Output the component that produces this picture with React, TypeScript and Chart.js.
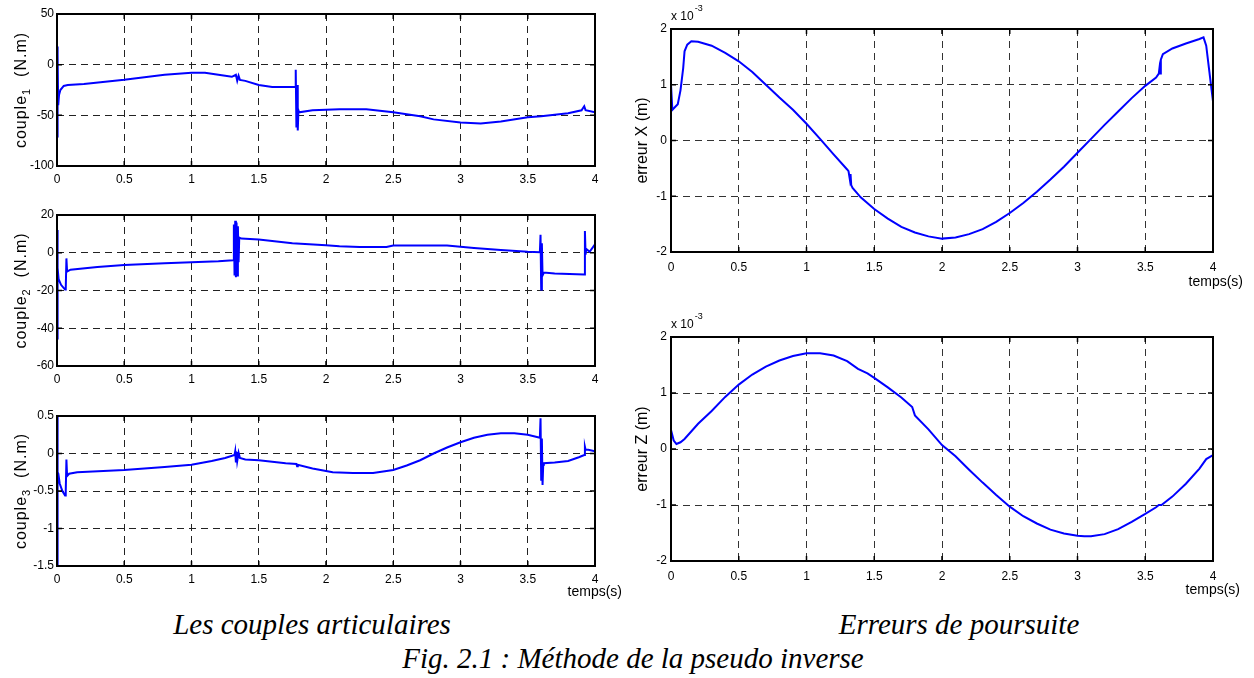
import React, { useEffect, useRef } from "react";
import { Chart, registerables } from "chart.js";

Chart.register(...registerables);

// ---------- DATA ----------
const xTicks = [0, 0.5, 1, 1.5, 2, 2.5, 3, 3.5, 4];

// couple 1 (N.m)
const tC1 = [0, 0.003, 0.006, 0.009, 0.015, 0.025, 0.05, 0.08, 0.2, 0.5, 0.8, 1.0, 1.1, 1.2, 1.3, 1.33, 1.34, 1.35, 1.36, 1.4, 1.5, 1.6, 1.77, 1.775, 1.78, 1.785, 1.79, 1.795, 1.8, 1.9, 2.1, 2.3, 2.5, 2.7, 2.8, 3.0, 3.15, 3.3, 3.5, 3.6, 3.8, 3.9, 3.92, 3.93, 4.0];
const couple1 = [18, -72, 10, -40, -30, -25, -21, -20, -19, -15, -10, -8, -8, -10, -12, -10, -16, -11, -15, -16, -20, -22, -22, -5, -62, -20, -65, -45, -47, -45, -44, -44, -47, -51, -54, -57, -58, -56, -52, -51, -48, -45, -41, -45, -47];

// couple 2 (N.m)
const tC2 = [0, 0.003, 0.006, 0.012, 0.03, 0.06, 0.065, 0.07, 0.075, 0.1, 0.3, 0.5, 0.8, 1.0, 1.2, 1.31, 1.315, 1.32, 1.325, 1.33, 1.335, 1.34, 1.345, 1.35, 1.355, 1.37, 1.5, 1.75, 2.0, 2.1, 2.25, 2.45, 2.5, 2.9, 3.1, 3.3, 3.5, 3.59, 3.595, 3.6, 3.605, 3.61, 3.62, 3.7, 3.92, 3.925, 3.93, 3.935, 3.96, 4.0];
const couple2 = [12, -46, -8, -14, -17, -19.5, -19, -3, -10, -9, -7.5, -6.5, -5.5, -5, -4.5, -4, 15, -12, 17, -13, 16, -12, 14, -5, 8, 7.5, 7, 5, 4, 3.5, 3, 3, 3.8, 3.8, 2.5, 1.5, 0.5, 0.3, 9.5, -19.5, 5, -12, -10.5, -11, -11.5, 11.5, -1, 2, 0.5, 4.5];

// couple 3 (N.m)
const tC3 = [0, 0.003, 0.006, 0.01, 0.02, 0.04, 0.06, 0.065, 0.07, 0.075, 0.09, 0.15, 0.5, 0.8, 1.0, 1.15, 1.25, 1.32, 1.325, 1.33, 1.335, 1.34, 1.35, 1.36, 1.4, 1.5, 1.7, 1.78, 1.785, 1.79, 1.9, 2.05, 2.2, 2.35, 2.5, 2.6, 2.7, 2.8, 2.9, 3.0, 3.1, 3.2, 3.3, 3.4, 3.5, 3.59, 3.595, 3.6, 3.605, 3.61, 3.615, 3.62, 3.7, 3.8, 3.88, 3.92, 3.925, 3.93, 3.95, 4.0];
const couple3 = [0.5, -1.5, -0.25, -0.27, -0.4, -0.5, -0.56, -0.5, -0.08, -0.3, -0.27, -0.25, -0.22, -0.18, -0.15, -0.1, -0.06, -0.02, 0.03, -0.12, 0.02, -0.1, 0.01, -0.06, -0.08, -0.09, -0.13, -0.14, -0.17, -0.15, -0.2, -0.25, -0.26, -0.26, -0.22, -0.16, -0.09, 0.0, 0.08, 0.15, 0.21, 0.25, 0.27, 0.27, 0.25, 0.21, 0.47, -0.35, 0.2, -0.42, -0.15, -0.13, -0.12, -0.1, -0.05, -0.02, 0.09, 0.05, 0.05, 0.03];

// erreur X (x 10^-3 m)
const tEX = [0, 0.01, 0.03, 0.05, 0.07, 0.09, 0.1, 0.12, 0.15, 0.2, 0.3, 0.4, 0.5, 0.6, 0.7, 0.8, 0.9, 1.0, 1.1, 1.2, 1.3, 1.31, 1.32, 1.325, 1.33, 1.34, 1.4, 1.5, 1.6, 1.7, 1.8, 1.9, 2.0, 2.1, 2.2, 2.3, 2.4, 2.5, 2.6, 2.7, 2.8, 2.9, 3.0, 3.1, 3.2, 3.3, 3.4, 3.5, 3.58, 3.6, 3.605, 3.61, 3.615, 3.63, 3.7, 3.8, 3.9, 3.93, 3.95, 3.97, 3.99, 4.0];
const erreurX = [1.0, 0.55, 0.6, 0.65, 0.9, 1.3, 1.6, 1.72, 1.78, 1.77, 1.7, 1.57, 1.42, 1.23, 1.0, 0.77, 0.55, 0.3, 0.03, -0.25, -0.52, -0.55, -0.7, -0.6, -0.8, -0.85, -1.02, -1.23, -1.4, -1.55, -1.65, -1.72, -1.76, -1.74, -1.68, -1.59, -1.46, -1.3, -1.12, -0.92, -0.7, -0.47, -0.22, 0.03, 0.28, 0.52, 0.76, 0.98, 1.13, 1.2, 1.3, 1.2, 1.45, 1.55, 1.65, 1.74, 1.82, 1.85, 1.7, 1.3, 0.9, 0.7];

// erreur Z (x 10^-3 m)
const tEZ = [0, 0.02, 0.04, 0.07, 0.1, 0.2, 0.3, 0.4, 0.5, 0.6, 0.7, 0.8, 0.9, 1.0, 1.1, 1.2, 1.3, 1.38, 1.45, 1.5, 1.6, 1.7, 1.78, 1.8, 1.9, 2.0, 2.1, 2.2, 2.3, 2.4, 2.5, 2.6, 2.7, 2.8, 2.9, 3.0, 3.05, 3.1, 3.2, 3.3, 3.4, 3.5, 3.58, 3.6, 3.62, 3.7, 3.8, 3.9, 3.95, 4.0];
const erreurZ = [0.34, 0.15, 0.09, 0.12, 0.18, 0.45, 0.68, 0.93, 1.15, 1.33, 1.47, 1.58, 1.66, 1.71, 1.71, 1.67, 1.57, 1.43, 1.35, 1.27, 1.1, 0.92, 0.75, 0.6, 0.35, 0.07, -0.13, -0.37, -0.6, -0.82, -1.03, -1.2, -1.33, -1.44, -1.51, -1.55, -1.56, -1.56, -1.52, -1.43, -1.3, -1.16, -1.04, -1.0, -1.0, -0.85, -0.62, -0.35, -0.18, -0.11];

const yTicksC1 = [-100, -50, 0, 50];
const yTicksC2 = [-60, -40, -20, 0, 20];
const yTicksC3 = [-1.5, -1, -0.5, 0, 0.5];
const yTicksErr = [-2, -1, 0, 1, 2];

// ---------- COMPONENT ----------
const SANS = '"Liberation Sans", Arial, Helvetica, sans-serif';
const NARROW = '"Liberation Sans Narrow", "Arial Narrow", "Liberation Sans", Arial, sans-serif';

type PlotProps = {
  left: number; top: number; width: number; height: number;
  padTop: number; padRight: number; yWidth: number; xHeight: number;
  xPad: number; yPad: number;
  t: number[]; v: number[]; yTicks: number[];
  titleMain: string; titleSub?: string; titleRest?: string; titleSpacing: number; titleOffset: number;
  temps?: { dx: number; dy: number };
  expLabel?: boolean;
  gridColor: string;
};

function Plot(p: PlotProps) {
  const ref = useRef<HTMLCanvasElement | null>(null);
  useEffect(() => {
    const canvas = ref.current!;
    const yMin = p.yTicks[0];
    const yMax = p.yTicks[p.yTicks.length - 1];
    const yStep = p.yTicks[1] - p.yTicks[0];
    const framePlugin = {
      id: "matlabFrame",
      afterDraw(chart: any) {
        const ctx = chart.ctx as CanvasRenderingContext2D;
        const a = chart.chartArea;
        const xs = chart.scales.x;
        const ys = chart.scales.y;
        ctx.save();
        // inner ticks
        ctx.strokeStyle = "#000";
        ctx.lineWidth = 1.5;
        ctx.setLineDash([]);
        ctx.beginPath();
        xTicks.forEach((tv) => {
          const px = xs.getPixelForValue(tv);
          ctx.moveTo(px, a.bottom); ctx.lineTo(px, a.bottom - 5);
          ctx.moveTo(px, a.top); ctx.lineTo(px, a.top + 5);
        });
        p.yTicks.forEach((tv) => {
          const py = ys.getPixelForValue(tv);
          ctx.moveTo(a.left, py); ctx.lineTo(a.left + 5, py);
          ctx.moveTo(a.right, py); ctx.lineTo(a.right - 5, py);
        });
        ctx.stroke();
        // frame
        ctx.lineWidth = 2;
        ctx.strokeRect(a.left, a.top, a.right - a.left, a.bottom - a.top);
        // y title
        ctx.fillStyle = "#000";
        ctx.translate(a.left - p.titleOffset, (a.top + a.bottom) / 2);
        ctx.rotate(-Math.PI / 2);
        (ctx as any).letterSpacing = p.titleSpacing + "px";
        ctx.textBaseline = "middle";
        ctx.textAlign = "left";
        const big = "16px " + SANS;
        const small = "11px " + SANS;
        ctx.font = big;
        const w1 = ctx.measureText(p.titleMain).width;
        const w3 = p.titleRest ? ctx.measureText(p.titleRest).width : 0;
        ctx.font = small;
        const w2 = p.titleSub ? ctx.measureText(p.titleSub).width : 0;
        let x = -(w1 + w2 + w3) / 2;
        ctx.font = big;
        ctx.fillText(p.titleMain, x, 0);
        x += w1;
        if (p.titleSub) {
          ctx.font = small;
          ctx.fillText(p.titleSub, x, 5);
          x += w2;
        }
        if (p.titleRest) {
          ctx.font = big;
          ctx.fillText(p.titleRest, x, 0);
        }
        ctx.restore();
        ctx.save();
        ctx.fillStyle = "#000";
        if (p.temps) {
          ctx.font = "14px " + NARROW;
          ctx.textAlign = "right";
          ctx.textBaseline = "middle";
          ctx.fillText("temps(s)", a.right + p.temps.dx, a.bottom + p.temps.dy);
        }
        if (p.expLabel) {
          ctx.font = "12px " + NARROW;
          ctx.textAlign = "left";
          ctx.textBaseline = "middle";
          const base = "x 10";
          ctx.fillText(base, a.left, a.top - 12);
          const wb = ctx.measureText(base).width;
          ctx.font = "9px " + NARROW;
          ctx.fillText("-3", a.left + wb + 1, a.top - 20);
        }
        ctx.restore();
      },
    };
    const chart = new Chart(canvas, {
      type: "line",
      data: {
        datasets: [
          {
            data: p.t.map((tv, i) => ({ x: tv, y: p.v[i] })),
            borderColor: "#0000ff",
            borderWidth: 2,
            pointRadius: 0,
            tension: 0,
            fill: false,
          },
        ],
      },
      options: {
        animation: false,
        responsive: false,
        maintainAspectRatio: false,
        events: [],
        layout: { padding: { top: p.padTop, right: p.padRight, left: 0, bottom: 0 } },
        plugins: { legend: { display: false }, tooltip: { enabled: false }, title: { display: false } },
        scales: {
          x: {
            type: "linear",
            min: 0,
            max: 4,
            afterFit: (s: any) => { s.height = p.xHeight; },
            afterBuildTicks: (s: any) => { s.ticks = xTicks.map((v) => ({ value: v })); },
            ticks: {
              color: "#000",
              font: { family: NARROW, size: 12 },
              padding: p.xPad,
              maxRotation: 0,
              autoSkip: false,
              callback: (v: any) => String(v),
            },
            grid: { color: p.gridColor, lineWidth: 1, drawTicks: false },
            border: { display: false, dash: [7, 5] },
          },
          y: {
            type: "linear",
            min: yMin,
            max: yMax,
            afterFit: (s: any) => { s.width = p.yWidth; },
            afterBuildTicks: (s: any) => { s.ticks = p.yTicks.map((v) => ({ value: v })); },
            ticks: {
              color: "#000",
              font: { family: NARROW, size: 12 },
              padding: p.yPad,
              stepSize: yStep,
              autoSkip: false,
              callback: (v: any) => String(v),
            },
            grid: { color: p.gridColor, lineWidth: 1, drawTicks: false },
            border: { display: false, dash: [7, 5] },
          },
        },
      },
      plugins: [framePlugin],
    } as any);
    return () => chart.destroy();
  }, []);
  return (
    <canvas
      ref={ref}
      width={p.width}
      height={p.height}
      style={{ position: "absolute", left: p.left, top: p.top, width: p.width, height: p.height }}
    />
  );
}

const capStyle: React.CSSProperties = {
  position: "absolute",
  fontFamily: '"Liberation Serif", "Times New Roman", serif',
  fontStyle: "italic",
  fontSize: 29,
  lineHeight: "29px",
  whiteSpace: "nowrap",
  transform: "translateX(-50%)",
  color: "#000",
};

export default function App() {
  return (
    <div style={{ position: "absolute", left: 0, top: 0, width: 1254, height: 678, background: "#fff", overflow: "hidden" }}>
      <Plot left={0} top={0} width={632} height={191} padTop={14} padRight={37} yWidth={57} xHeight={25} xPad={6} yPad={3}
        t={tC1} v={couple1} yTicks={yTicksC1} titleMain="couple" titleSub="1" titleRest="  (N.m)" titleSpacing={1} titleOffset={35} gridColor="#222" />
      <Plot left={0} top={200} width={632} height={191} padTop={15} padRight={37} yWidth={57} xHeight={25} xPad={6} yPad={3}
        t={tC2} v={couple2} yTicks={yTicksC2} titleMain="couple" titleSub="2" titleRest="  (N.m)" titleSpacing={1} titleOffset={35} gridColor="#222" />
      <Plot left={0} top={400} width={632} height={200} padTop={16} padRight={37} yWidth={57} xHeight={34} xPad={6} yPad={3}
        t={tC3} v={couple3} yTicks={yTicksC3} titleMain="couple" titleSub="3" titleRest="  (N.m)" titleSpacing={1} titleOffset={35} gridColor="#222"
        temps={{ dx: 27, dy: 26 }} />
      <Plot left={620} top={0} width={634} height={292} padTop={29} padRight={41} yWidth={51} xHeight={40} xPad={8} yPad={4}
        t={tEX} v={erreurX} yTicks={yTicksErr} titleMain="erreur X (m)" titleSpacing={0} titleOffset={28} gridColor="#333"
        temps={{ dx: 30, dy: 30 }} expLabel />
      <Plot left={620} top={300} width={634} height={300} padTop={37} padRight={41} yWidth={51} xHeight={39} xPad={8} yPad={4}
        t={tEZ} v={erreurZ} yTicks={yTicksErr} titleMain="erreur Z (m)" titleSpacing={0} titleOffset={28} gridColor="#333"
        temps={{ dx: 27, dy: 29 }} expLabel />
      <div style={{ ...capStyle, left: 312, top: 610 }}>Les couples articulaires</div>
      <div style={{ ...capStyle, left: 959, top: 610 }}>Erreurs de poursuite</div>
      <div style={{ ...capStyle, left: 633, top: 644 }}>Fig. 2.1 : Méthode de la pseudo inverse</div>
    </div>
  );
}
